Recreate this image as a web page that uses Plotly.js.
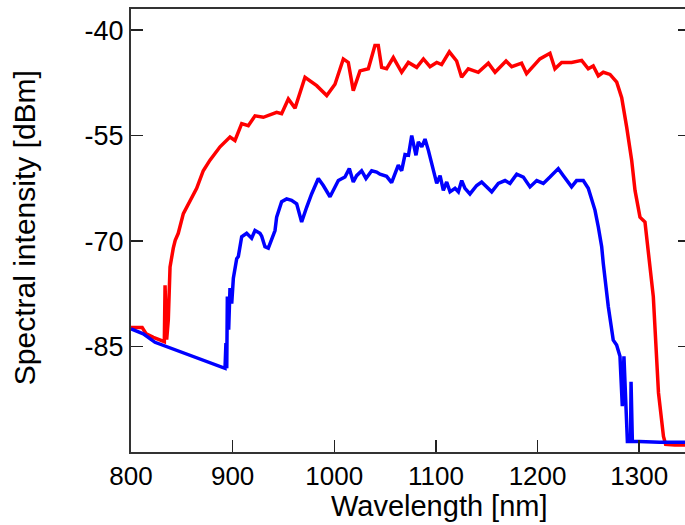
<!DOCTYPE html>
<html>
<head>
<meta charset="utf-8">
<script src="https://cdn.plot.ly/plotly-3.0.1.min.js"></script>
<style>
html,body{margin:0;padding:0;overflow:hidden;background:#fff;}
#chart{width:700px;height:525px;}
</style>
</head>
<body>
<div id="chart"></div>
<script>
// Red spectrum
const redX = [800, 811, 815, 822, 832.8, 833.5, 835.1, 836.7, 838.4, 840.1, 841.6, 843.5, 846.5, 851.5, 858, 864.6, 871.1, 877.7, 887.6, 897.4, 902.3, 908.9, 915.4, 922, 930.2, 943.3, 948.2, 954.8, 961.4, 971.2, 982.7, 992.6, 1000.7, 1008.9, 1013.8, 1018.7, 1025.3, 1033.5, 1040, 1043.3, 1046.6, 1051.5, 1058.1, 1066.3, 1072.9, 1081.1, 1087.7, 1094.2, 1100.8, 1105.6, 1113.2, 1120.4, 1125.3, 1131.9, 1141.7, 1151.6, 1158.2, 1169, 1174.6, 1184.3, 1189.2, 1195.8, 1202.3, 1212.2, 1217.1, 1223.7, 1233.5, 1243.4, 1249.9, 1254.8, 1259.8, 1264.7, 1271.3, 1277.9, 1282.8, 1287.7, 1292.6, 1295.9, 1300.8, 1305.7, 1309, 1313.9, 1319, 1322.3, 1323.9, 1326, 1335, 1350];
const redY = [-82.3, -82.3, -83.2, -83.7, -84.3, -76.3, -84.0, -81.2, -73.7, -72.0, -71.0, -69.9, -68.9, -66.1, -64.2, -62.5, -60.0, -58.5, -56.6, -55.2, -55.7, -53.3, -53.6, -52.2, -52.4, -51.7, -51.9, -49.8, -51.1, -46.7, -47.9, -49.3, -47.7, -44.1, -44.6, -48.6, -45.8, -45.5, -42.2, -42.2, -45.3, -45.5, -43.9, -46.0, -44.6, -45.3, -44.1, -45.2, -44.6, -44.9, -43.1, -44.4, -46.7, -45.5, -46.0, -44.7, -46.0, -44.4, -45.2, -44.7, -46.2, -45.1, -44.1, -43.3, -45.5, -44.6, -44.6, -44.3, -45.5, -45.1, -46.5, -46.0, -46.3, -47.4, -49.6, -53.8, -58.5, -62.8, -66.6, -67.3, -71.3, -77.9, -91.6, -96.3, -97.8, -98.9, -99.0, -99.0];

// Blue spectrum
const blueX = [800, 812.1, 823.6, 850, 887.6, 892.5, 893.4, 894.2, 894.8, 896.1, 897.4, 899.1, 900.7, 902.3, 904, 905.6, 907.2, 908.9, 913.8, 918.7, 922, 926.9, 928.6, 931.8, 935.1, 938.4, 941.7, 943.3, 948.2, 953.1, 958, 963, 967.9, 972.8, 977.7, 984.3, 989.2, 995.8, 1000.7, 1004, 1010.5, 1014.8, 1018.7, 1022, 1026.9, 1031.2, 1036.8, 1041.7, 1045, 1051.5, 1056.4, 1063, 1066.3, 1069.6, 1073, 1076.2, 1080.4, 1082.7, 1086.1, 1089.3, 1092.6, 1095.9, 1100.8, 1104.1, 1107.3, 1110.6, 1113.9, 1118.8, 1122.1, 1125.4, 1128.6, 1133.5, 1140.1, 1145, 1149.9, 1154.9, 1161.4, 1168, 1172.9, 1179.5, 1186, 1192.6, 1199.2, 1205.7, 1212.2, 1220.4, 1225.4, 1233.5, 1238.4, 1245, 1249.9, 1253.2, 1256.5, 1259.8, 1263.1, 1264.7, 1269.6, 1274.5, 1277.8, 1281.1, 1283.4, 1285, 1287, 1288.4, 1290, 1291.5, 1292, 1293.3, 1300, 1320, 1350];
const blueY = [-82.5, -83.2, -84.4, -85.8, -87.8, -88.1, -84.5, -88.1, -77.9, -82.6, -76.7, -78.9, -75.3, -74.1, -72.5, -72.2, -70.8, -69.4, -68.9, -69.6, -68.5, -68.9, -69.3, -70.8, -71.0, -69.9, -68.5, -66.6, -64.4, -64.0, -64.2, -64.7, -67.3, -65.2, -63.3, -61.1, -62.1, -63.7, -62.3, -61.4, -60.9, -59.7, -61.6, -60.7, -60.0, -61.1, -60.0, -60.2, -60.5, -60.8, -61.7, -59.2, -60.0, -57.7, -57.8, -55.0, -57.8, -55.9, -56.6, -55.5, -57.1, -59.0, -61.8, -60.7, -62.8, -61.6, -63.0, -62.5, -63.0, -61.4, -62.5, -63.3, -62.1, -61.6, -62.3, -63.0, -61.8, -61.4, -61.8, -60.5, -60.9, -62.3, -61.4, -61.8, -60.9, -59.7, -60.7, -62.3, -61.4, -61.4, -62.5, -64.2, -65.6, -68.0, -70.8, -73.2, -79.3, -84.1, -84.8, -86.4, -93.5, -86.4, -95.9, -98.5, -98.5, -98.5, -90.0, -98.5, -98.5, -98.6, -98.6];

// Ticks
const xTickVals = [800, 900, 1000, 1100, 1200, 1300];
const xTickText = ['800', '900', '1000', '1100', '1200', '1300'];
const yTickVals = [-40, -55, -70, -85];
const yTickText = ['-40', '-55', '-70', '-85'];

const xTitle = 'Wavelength [nm]';
const yTitle = 'Spectral intensity [dBm]';

const FONT = '"Liberation Sans", Arial, Helvetica, sans-serif';

const traces = [
  {x: redX, y: redY, type: 'scatter', mode: 'lines', line: {color: '#ff0000', width: 3.5}, hoverinfo: 'skip'},
  {x: blueX, y: blueY, type: 'scatter', mode: 'lines', line: {color: '#0000ff', width: 3.5}, hoverinfo: 'skip'}
];

const layout = {
  width: 700, height: 525,
  margin: {l: 131, r: 10, t: 9, b: 73},
  paper_bgcolor: '#fff', plot_bgcolor: '#fff',
  showlegend: false,
  font: {family: FONT, color: '#000'},
  xaxis: {
    range: [800, 1350], tickmode: 'array', tickvals: xTickVals, ticktext: xTickText,
    ticks: 'inside', ticklen: 12, tickwidth: 1.5, tickcolor: '#222',
    showline: true, linecolor: '#333', linewidth: 2, mirror: true,
    showgrid: false, zeroline: false,
    tickfont: {size: 26, family: FONT, color: '#000'}
  },
  yaxis: {
    range: [-100, -37], tickmode: 'array', tickvals: yTickVals, ticktext: yTickText,
    ticks: 'inside', ticklen: 12, tickwidth: 1.5, tickcolor: '#222',
    showline: true, linecolor: '#333', linewidth: 2, mirror: 'ticks',
    showgrid: false, zeroline: false,
    tickfont: {size: 27, family: FONT, color: '#000'}
  },
  annotations: [
    {text: xTitle, xref: 'paper', yref: 'paper', x: 0.551, y: -0.122, xanchor: 'center', yanchor: 'middle', showarrow: false, font: {size: 29, family: FONT, color: '#000'}},
    {text: yTitle, xref: 'paper', yref: 'paper', x: -0.19, y: 0.507, xanchor: 'center', yanchor: 'middle', textangle: -90, showarrow: false, font: {size: 30, family: FONT, color: '#000'}}
  ]
};

Plotly.newPlot('chart', traces, layout, {displayModeBar: false, staticPlot: true});
</script>
</body>
</html>
